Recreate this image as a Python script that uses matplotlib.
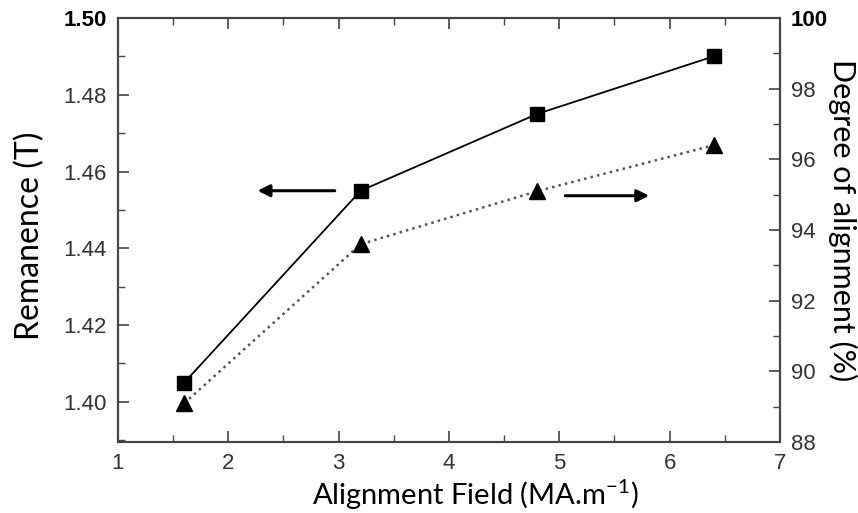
import matplotlib
matplotlib.use('agg')
import matplotlib.pyplot as plt
from matplotlib.ticker import MultipleLocator

# data
field = [1.6, 3.2, 4.8, 6.4]
remanence = [1.405, 1.455, 1.475, 1.490]
alignment = [89.1, 93.6, 95.1, 96.4]

tick_font = 'Liberation Sans'
label_font = 'Lato'
grey = '#444444'

fig = plt.figure(figsize=(8.58, 5.13), dpi=100)
ax = fig.add_axes([0.1375, 0.138, 0.7715, 0.827])
ax2 = ax.twinx()

ax.plot(field, remanence, '-', color='black', lw=1.3,
        marker='s', ms=10, mfc='black', mec='black', zorder=3)
ax2.plot(field, alignment, ':', color='#555555', lw=1.8,
         marker='^', ms=11, mfc='black', mec='black', zorder=3)

ax.set_xlim(1, 7)
ax.set_ylim(1.3895, 1.50)
ax2.set_ylim(88, 100)

ax.xaxis.set_major_locator(MultipleLocator(1))
ax.xaxis.set_minor_locator(MultipleLocator(0.5))
ax.yaxis.set_major_locator(MultipleLocator(0.02))
ax.yaxis.set_minor_locator(MultipleLocator(0.01))
ax2.yaxis.set_major_locator(MultipleLocator(2))
ax2.yaxis.set_minor_locator(MultipleLocator(1))

ax.tick_params(which='both', direction='in', top=True, right=False, colors=grey)
ax.tick_params(which='major', length=8, width=1.2, labelsize=16, pad=8)
ax.tick_params(which='minor', length=5, width=1.0)
ax2.tick_params(which='both', direction='in', colors=grey)
ax2.tick_params(which='major', length=8, width=1.2, labelsize=16, pad=8)
ax2.tick_params(which='minor', length=5, width=1.0)

for a in (ax, ax2):
    for lab in a.get_xticklabels() + a.get_yticklabels():
        lab.set_family(tick_font)
        lab.set_color('#333333')
    for sp in a.spines.values():
        sp.set_color(grey)
        sp.set_linewidth(1.5)

ax.set_yticks([1.40, 1.42, 1.44, 1.46, 1.48, 1.50])
ax.set_yticklabels(['1.40', '1.42', '1.44', '1.46', '1.48', '1.50'],
                   family=tick_font, color='#333333')
ax.get_yticklabels()[-1].set_fontweight('bold')
ax.get_yticklabels()[-1].set_color('black')
ax2.set_yticks([88, 90, 92, 94, 96, 98, 100])
ax2.set_yticklabels(['88', '90', '92', '94', '96', '98', '100'],
                    family=tick_font, color='#333333')
ax2.get_yticklabels()[-1].set_fontweight('bold')
ax2.get_yticklabels()[-1].set_color('black')

# axis titles placed by hand to sit where the reference has them
fig.text(0.554, 0.035, r'Alignment Field (MA.m$^{\mathregular{-1}}$)', family=label_font,
         fontsize=21, ha='center', va='center')
fig.text(0.035, 0.54, 'Remanence (T)', family=label_font, fontsize=23,
         rotation=90, ha='center', va='center')
fig.text(0.982, 0.571, 'Degree of alignment (%)', family=label_font, fontsize=22,
         rotation=-90, ha='center', va='center')

# arrows pointing to each axis
ax.annotate('', xy=(2.24, 1.455), xytext=(2.99, 1.455),
            arrowprops=dict(arrowstyle='-|>', color='black', lw=2.2,
                            mutation_scale=18))
ax.annotate('', xy=(5.84, 1.4537), xytext=(5.03, 1.4537),
            arrowprops=dict(arrowstyle='-|>', color='black', lw=2.2,
                            mutation_scale=18))

plt.savefig('out.png', format='png')
plt.close()
